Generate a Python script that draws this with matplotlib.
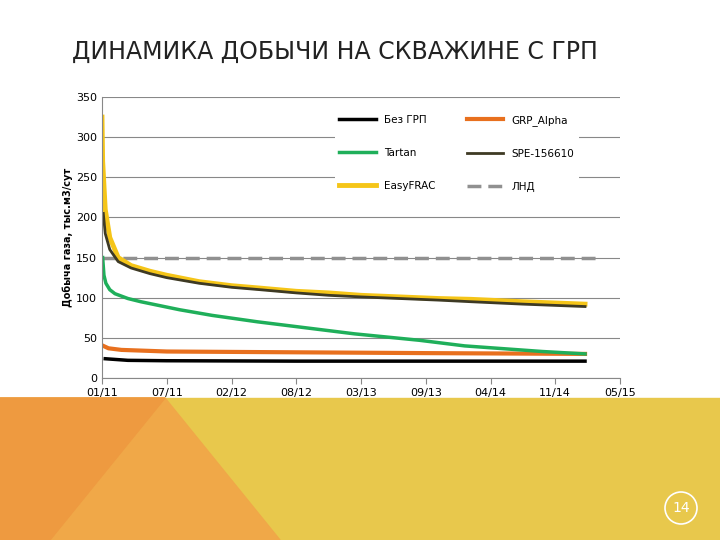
import matplotlib
matplotlib.use("Agg")
import matplotlib.pyplot as plt
from matplotlib.patches import Polygon, Circle, Rectangle

tick_labels = ["01/11", "07/11", "02/12", "08/12", "03/13", "09/13", "04/14", "11/14", "05/15"]

t_easy = [0, 0.01, 0.05, 0.12, 0.25, 0.45, 0.74, 1.0, 1.5, 2.0, 2.44, 3.0, 3.5, 4.0, 4.6, 5.2, 5.7, 6.5, 7.46]
v_easy = [325, 270, 210, 175, 150, 140, 133, 128, 120, 115, 112, 108, 106, 103, 101, 99, 98, 95, 92]
t_spe = [0.02, 0.05, 0.12, 0.25, 0.45, 0.74, 1.0, 1.5, 2.0, 2.44, 3.0, 3.5, 4.0, 4.6, 5.2, 5.7, 6.5, 7.46]
v_spe = [205, 180, 160, 145, 137, 130, 125, 118, 113, 110, 106, 103, 101, 99, 97, 95, 92, 89]
t_tartan = [0.01, 0.03, 0.06, 0.12, 0.2, 0.4, 0.6, 1.2, 1.7, 2.4, 3.2, 3.9, 4.9, 5.6, 6.8, 7.46]
v_tartan = [150, 128, 118, 110, 105, 99, 95, 85, 78, 70, 62, 55, 47, 40, 33, 30]
t_alpha = [0.02, 0.1, 0.3, 1.0, 3.0, 5.0, 7.46]
v_alpha = [40, 37, 35, 33, 32, 31, 30]
t_bez = [0.05, 0.4, 1.0, 3.0, 5.0, 7.46]
v_bez = [24, 22, 21.5, 21, 21, 21]
t_lnd = [0, 7.7]
v_lnd = [150, 150]

fig = plt.figure(figsize=(7.2, 5.4), dpi=100)
W, H = 720, 540
bg = fig.add_axes([0, 0, 1, 1], zorder=0)
bg.set_xlim(0, W); bg.set_ylim(H, 0); bg.axis("off")
bg.add_patch(Rectangle((0, 398), W, 142, color="#E8C84C"))
bg.add_patch(Polygon([(0, 398), (165, 398), (280, 540), (0, 540)], color="#F0A848"))
bg.add_patch(Polygon([(0, 398), (165, 398), (50, 540), (0, 540)], color="#EE9A40"))
bg.add_patch(Circle((681, 508), 16, facecolor="#E8C84C", edgecolor="white", lw=1.2))
bg.text(681, 508, "14", color="white", ha="center", va="center", fontsize=10)
fig.text(72 / W, 1 - 52 / H, "ДИНАМИКА ДОБЫЧИ НА СКВАЖИНЕ С ГРП", fontsize=17,
         color="#222222", va="center", family="DejaVu Sans")

ax = fig.add_axes([102 / W, 1 - 378 / H, 518 / W, 281 / H], zorder=1)
ax.plot(t_bez, v_bez, color="black", lw=2.5, label="Без ГРП")
ax.plot(t_alpha, v_alpha, color="#E8701E", lw=3, label="GRP_Alpha")
ax.plot(t_tartan, v_tartan, color="#1FAF5A", lw=2.5, label="Tartan")
ax.plot(t_lnd, v_lnd, color="#909090", lw=2.5, ls=(0, (4, 2)), zorder=1.5)
ax.plot(t_easy, v_easy, color="#F5C518", lw=3.5, label="EasyFRAC")
ax.plot(t_spe, v_spe, color="#3E3A24", lw=2, label="SPE-156610")
ax.plot([], [], color="#909090", lw=2.5, ls=(0, (4, 2)), label="ЛНД")

h, l = ax.get_legend_handles_labels()
order = ["Без ГРП", "Tartan", "EasyFRAC", "GRP_Alpha", "SPE-156610", "ЛНД"]
hd = dict(zip(l, h))
ax.legend([hd[k] for k in order], order, ncol=2, loc="upper right", bbox_to_anchor=(0.93, 0.97),
          frameon=True, facecolor="white", edgecolor="none", framealpha=1, fontsize=7.5,
          handlelength=3.5, columnspacing=3, labelspacing=2.2)

ax.set_xlim(0, 8)
ax.set_ylim(0, 350)
ax.set_xticks(range(9))
ax.set_xticklabels(tick_labels, fontsize=8)
ax.set_yticks(range(0, 351, 50))
ax.tick_params(axis="y", labelsize=8, length=0)
ax.tick_params(axis="x", length=4, color="#888888")
ax.grid(axis="y", color="#888888", lw=0.8)
ax.set_axisbelow(True)
for s in ["top", "right"]:
    ax.spines[s].set_visible(False)
ax.spines["left"].set_color("#888888")
ax.spines["bottom"].set_color("#888888")
ax.set_ylabel("Добыча газа, тыс.м3/сут", fontsize=7, fontweight="bold", labelpad=2)

fig.savefig("out.png", dpi=100)
